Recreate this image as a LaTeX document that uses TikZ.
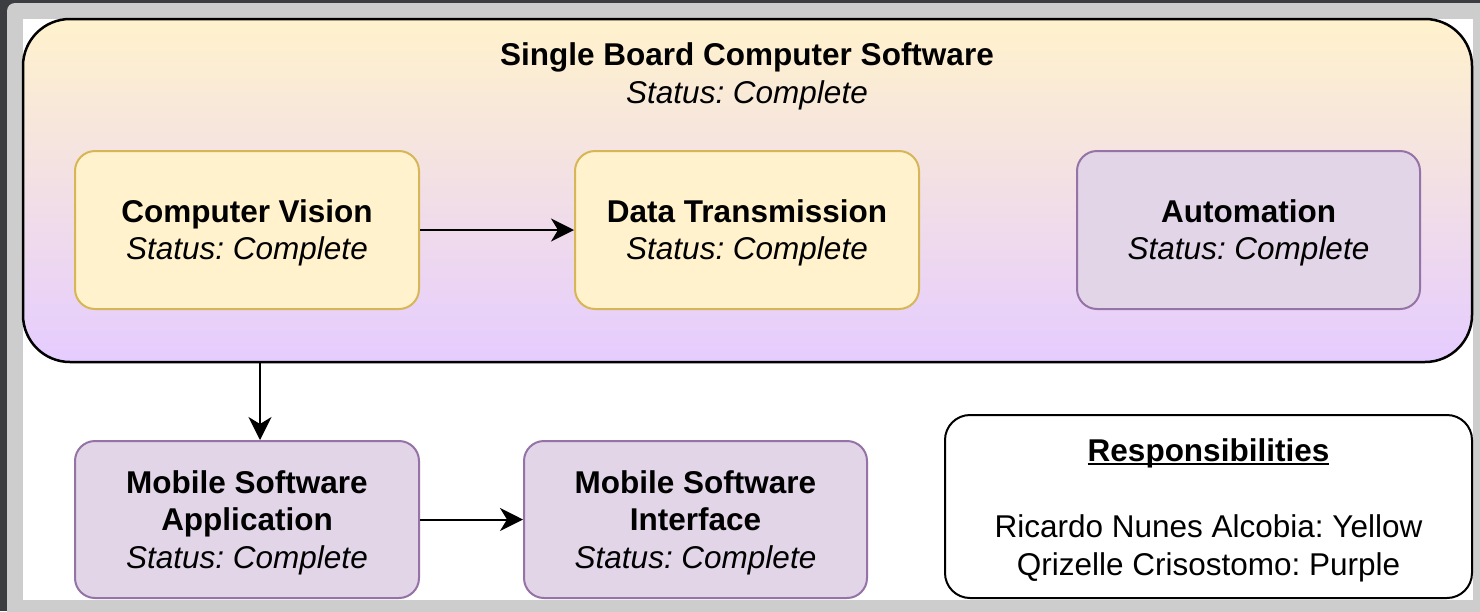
\documentclass[tikz,border=0pt]{standalone}
\usepackage{fontspec}
\setmainfont{Liberation Sans}
\usetikzlibrary{arrows.meta,calc}

\definecolor{viewerDark}{HTML}{3C3D41}
\definecolor{viewerGray}{HTML}{CDCDCD}
\definecolor{yelFill}{HTML}{FFF2CC}
\definecolor{yelLine}{HTML}{D6B656}
\definecolor{purFill}{HTML}{E1D5E7}
\definecolor{purLine}{HTML}{9673A6}
\definecolor{gradTop}{HTML}{FFF2CC}
\definecolor{gradBottom}{HTML}{E5CCFF}

% underline sitting just below the baseline
\newcommand\headrule[1]{\setbox0\hbox{#1}\rlap{\rule[-3.5pt]{\wd0}{2pt}}\box0}
% taller first line, nudges a centred block of lines down a little
\newcommand\firststrut{\rule{0pt}{29pt}}

\tikzset{
  txt/.style={font=\fontsize{31.5}{37.5}\selectfont\frenchspacing,
              align=center, text=black},
  box/.style={txt, rectangle, rounded corners=20pt, line width=2pt,
              minimum width=344pt, minimum height=158pt, inner sep=0pt},
  yelbox/.style={box, draw=yelLine, fill=yelFill},
  purbox/.style={box, draw=purLine, fill=purFill},
  arr/.style={line width=2pt, draw=black,
              -{Stealth[length=23pt,width=23pt,inset=7pt]}},
}

\begin{document}
\begin{tikzpicture}[x=1pt,y=-1pt]
  \useasboundingbox (0,0) rectangle (1480,611);
  \clip (0,0) rectangle (1480,611);
  % viewer frame around the canvas
  \fill[viewerDark] (0,0) rectangle (1480,611);
  \fill[viewerGray, rounded corners=8pt] (7,3) rectangle (1500,630);
  \fill[white] (23,19) rectangle (1473,600);

  % outer container
  \node[draw=black, line width=2.5pt, rounded corners=47pt,
        top color=gradTop, bottom color=gradBottom,
        minimum width=1449pt, minimum height=343pt, inner sep=0pt]
        (sbc) at (747.5,190.5) {};
  \node[txt] (sbctitle) at (747,73.5)
        {\firststrut\textbf{Single Board Computer Software}\\\textit{Status: Complete}};

  % inner modules
  \node[yelbox] (cv) at (247,230)
        {\firststrut\textbf{Computer Vision}\\\textit{Status: Complete}};
  \node[yelbox] (dt) at (747,230)
        {\firststrut\textbf{Data Transmission}\\\textit{Status: Complete}};
  \node[purbox, minimum width=343pt] (au) at (1248.5,230)
        {\firststrut\textbf{Automation}\\\textit{Status: Complete}};

  % mobile side
  \node[purbox, minimum height=157pt] (msa) at (247,519.5)
        {\firststrut\textbf{Mobile Software}\\\textbf{Application}\\\textit{Status: Complete}};
  \node[purbox, minimum width=343pt, minimum height=157pt] (msi) at (695.5,519.5)
        {\firststrut\textbf{Mobile Software}\\\textbf{Interface}\\\textit{Status: Complete}};

  % legend
  \node[txt, draw=black, line width=2pt, fill=white, rounded corners=25pt,
        minimum width=527pt, minimum height=183pt, inner sep=0pt]
        (resp) at (1208.5,506.5)
        {\rule{0pt}{31pt}\textbf{\headrule{Responsibilities}}\\[38.5pt]
         Ricardo Nunes Alcobia: Yellow\\Qrizelle Crisostomo: Purple};

  % connectors
  \draw[arr] (cv.east) -- (dt.west);
  \draw[arr] (msa.east) -- (msi.west);
  \coordinate (drop) at ($(msa.north)+(13,0)$);
  \draw[arr] (sbc.south -| drop) -- (drop);
\end{tikzpicture}
\end{document}
